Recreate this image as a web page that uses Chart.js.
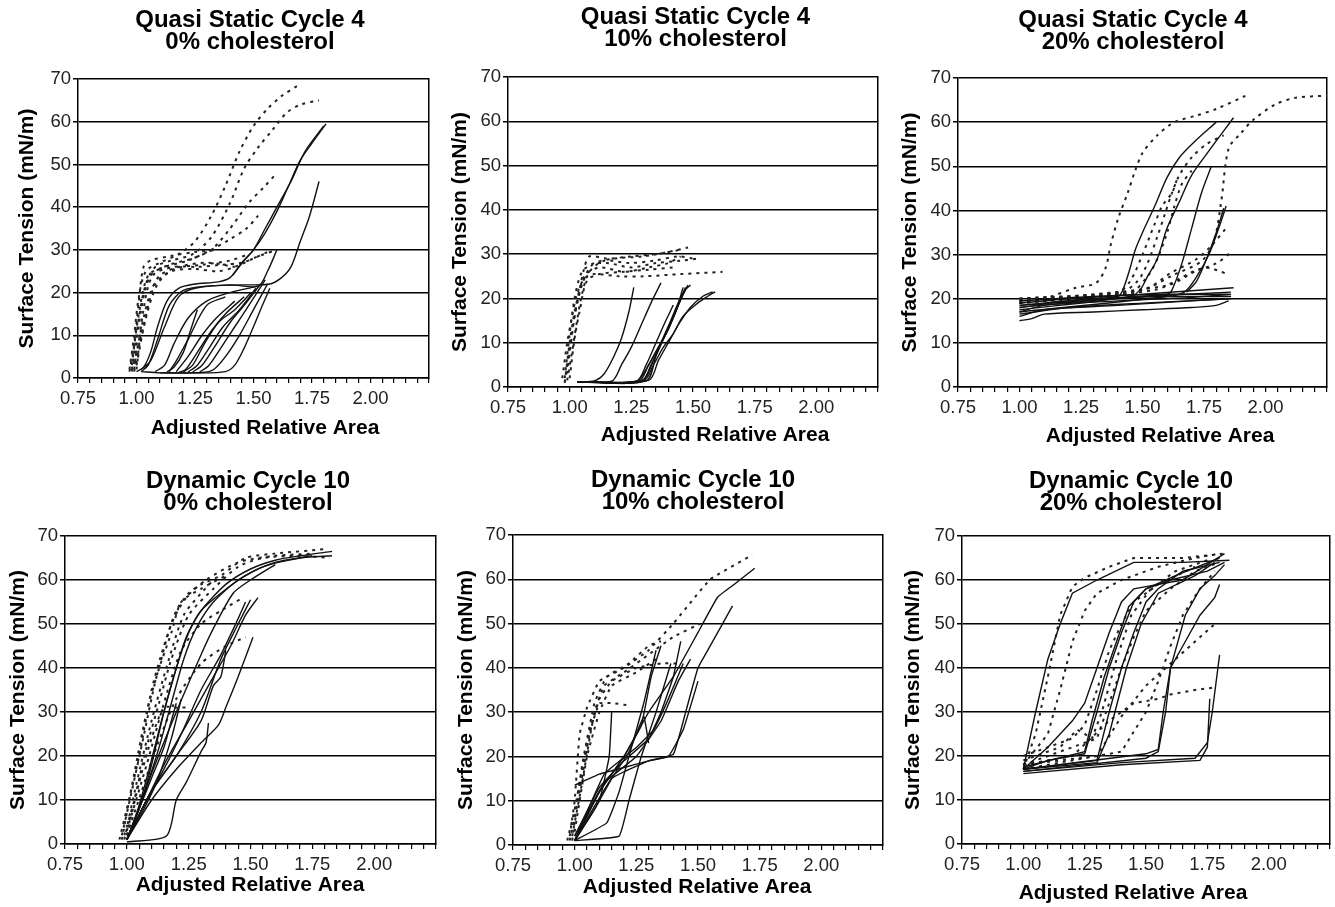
<!DOCTYPE html>
<html>
<head>
<meta charset="utf-8">
<title>Surface tension vs adjusted relative area</title>
<script src="https://cdn.jsdelivr.net/npm/chart.js@4.4.1/dist/chart.umd.min.js"></script>
<style>
  html, body { margin: 0; padding: 0; background: #fff; overflow: hidden; }
  body { width: 1335px; height: 907px; position: relative; }
  .panel { position: absolute; }
</style>
</head>
<body>
<div class="panel" id="p0"><canvas id="c0"></canvas></div>
<div class="panel" id="p1"><canvas id="c1"></canvas></div>
<div class="panel" id="p2"><canvas id="c2"></canvas></div>
<div class="panel" id="p3"><canvas id="c3"></canvas></div>
<div class="panel" id="p4"><canvas id="c4"></canvas></div>
<div class="panel" id="p5"><canvas id="c5"></canvas></div>
<script>
// labels
const cycleTitles = ['Quasi Static Cycle 4', 'Dynamic Cycle 10'];
const cholesterolLabels = ['0% cholesterol', '10% cholesterol', '20% cholesterol'];
const xAxisTitle = 'Adjusted Relative Area';
const yAxisTitle = 'Surface Tension (mN/m)';
const xTickLabels = ['0.75', '1.00', '1.25', '1.50', '1.75', '2.00'];
const yTicks = [0, 10, 20, 30, 40, 50, 60, 70];

// each curve is a list of [relative area, surface tension]
// solid = compression, dashed = expansion

const qs0Solid = [
  [[1.81,59.5],[1.75,55],[1.70,51],[1.65,45],[1.60,39],[1.55,34],[1.50,30],[1.45,27],[1.40,23.5],[1.35,22.5],[1.25,22],[1.18,21],[1.13,18],[1.09,12],[1.06,6],[1.03,2.5],[1.00,1.5]],
  [[1.80,59],[1.72,53],[1.66,46],[1.60,40],[1.55,35],[1.50,30],[1.46,27.5],[1.41,24]],
  [[1.78,46],[1.74,38],[1.70,32],[1.66,26],[1.62,23.5],[1.57,22],[1.45,21.8],[1.30,21.5],[1.20,20.5],[1.14,17],[1.09,9],[1.05,3],[1.02,1.5]],
  [[1.60,30],[1.56,25],[1.52,21.5],[1.40,21.8],[1.25,21],[1.18,19],[1.12,12],[1.06,4],[1.02,2]],
  [[1.57,21],[1.53,16],[1.50,12],[1.46,7],[1.42,3],[1.38,1.5],[1.25,1.2],[1.10,1.2],[1.02,1.5]],
  [[1.56,22],[1.50,16],[1.44,10],[1.38,5],[1.33,2],[1.28,1.3],[1.10,1.2]],
  [[1.55,23],[1.48,17],[1.42,12],[1.36,7],[1.31,3],[1.27,1.4]],
  [[1.53,22],[1.46,17],[1.40,13],[1.33,7],[1.28,3],[1.24,1.4]],
  [[1.51,21],[1.44,16],[1.37,12],[1.31,7],[1.26,3],[1.22,1.4]],
  [[1.49,20],[1.42,16],[1.35,13],[1.29,8],[1.24,3],[1.20,1.4]],
  [[1.46,19],[1.38,15],[1.32,11],[1.26,6],[1.21,2],[1.18,1.3]],
  [[1.42,18],[1.34,14],[1.28,10],[1.22,5],[1.17,1.5]],
  [[1.26,16],[1.23,11],[1.20,6],[1.16,2.5],[1.13,1.4]],
  [[1.52,21.5],[1.40,20],[1.30,18],[1.22,14],[1.16,8],[1.12,3],[1.08,1.5]],
  [[1.38,19],[1.30,17],[1.22,9],[1.17,4],[1.14,1.5]]
];
const qs0Dashed = [
  [[0.97,2],[0.99,10],[1.01,19],[1.04,25],[1.10,27],[1.18,29],[1.25,32],[1.32,38],[1.38,45],[1.44,53],[1.50,59],[1.56,63],[1.62,66],[1.69,68.5]],
  [[0.98,2],[1.01,14],[1.04,22],[1.08,26],[1.15,27.5],[1.24,29],[1.32,33],[1.40,41],[1.46,49],[1.52,54],[1.58,58],[1.64,62],[1.70,64],[1.78,65]],
  [[0.99,2],[1.02,16],[1.06,24],[1.14,26.5],[1.24,28],[1.32,30],[1.40,35],[1.48,41],[1.55,45],[1.60,48]],
  [[0.98,3],[1.01,15],[1.05,24],[1.12,26],[1.22,27.5],[1.32,30],[1.40,32.5],[1.47,35],[1.52,38]],
  [[1.00,2],[1.03,16],[1.07,24],[1.16,26],[1.26,26],[1.36,26.5],[1.45,27],[1.52,28.5],[1.60,30]],
  [[0.99,1.5],[1.03,12],[1.08,22],[1.15,25],[1.25,25.5],[1.35,25],[1.42,26],[1.50,28],[1.56,29.5]],
  [[1.00,3],[1.04,14],[1.09,22],[1.16,25.5],[1.28,26.5],[1.40,27.5],[1.48,29]],
  [[0.97,1.5],[0.99,8],[1.01,18],[1.03,26],[1.06,27.5],[1.14,28.5],[1.25,29.5],[1.35,30]],
  [[0.98,1.5],[1.00,6],[1.03,14],[1.06,20],[1.10,24],[1.18,26],[1.30,27],[1.42,26]]
];

const qs10Solid = [
  [[1.03,1.2],[1.10,1.4],[1.14,3],[1.18,7],[1.21,11],[1.24,17],[1.26,22.5]],
  [[1.03,1.2],[1.17,1.3],[1.21,5],[1.25,9],[1.29,14],[1.33,19],[1.37,23.5]],
  [[1.05,1.2],[1.27,1.3],[1.31,4],[1.35,8],[1.39,12],[1.43,17],[1.47,22],[1.49,23]],
  [[1.05,1.2],[1.28,1.3],[1.32,5],[1.36,9],[1.40,13],[1.44,18.5]],
  [[1.03,1.2],[1.29,1.3],[1.33,5],[1.37,10],[1.41,15],[1.44,19],[1.47,22.5]],
  [[1.03,1.2],[1.30,1.4],[1.34,5],[1.38,9],[1.42,12],[1.46,16],[1.52,19],[1.56,20.5],[1.59,21.5]],
  [[1.05,1.2],[1.32,1.5],[1.36,6],[1.40,10],[1.44,14],[1.49,18],[1.54,20.5],[1.58,21.5]],
  [[1.04,1.2],[1.27,1.3],[1.31,5],[1.35,10],[1.39,15],[1.42,18.5]],
  [[1.03,1.2],[1.29,1.3],[1.34,6],[1.38,11],[1.42,16],[1.46,21],[1.48,23]],
  [[1.04,1.2],[1.31,1.4],[1.35,7],[1.39,12],[1.43,17],[1.46,22.5]]
];
const qs10Dashed = [
  [[0.98,1],[1.00,10],[1.02,17],[1.04,22],[1.06,27],[1.08,29.5],[1.15,29],[1.25,29.5],[1.35,30],[1.45,31]],
  [[0.97,2],[0.99,10],[1.01,16],[1.03,21],[1.06,24.5],[1.10,25.5],[1.20,25],[1.30,25],[1.45,25.5],[1.62,26]],
  [[0.98,1],[1.00,9],[1.02,16],[1.05,23],[1.09,27.5],[1.15,28],[1.25,27],[1.35,28],[1.45,28.5],[1.52,29]],
  [[0.99,3],[1.01,12],[1.03,19],[1.06,25],[1.12,27],[1.22,26],[1.32,27],[1.40,28],[1.45,29.5]],
  [[1.00,2],[1.02,11],[1.04,17],[1.07,24],[1.12,25.5],[1.22,26],[1.32,26.5],[1.42,27]],
  [[0.98,2],[1.00,12],[1.02,20],[1.05,26],[1.10,28],[1.18,29],[1.30,29.5],[1.40,30.5],[1.48,31.5]],
  [[0.99,1.5],[1.01,8],[1.03,15],[1.05,21],[1.08,26],[1.14,28.5],[1.24,28],[1.34,28.5],[1.44,29.5],[1.50,29]]
];

const qs20Solid = [
  [[1.00,15],[1.05,15.5],[1.10,16.5],[1.30,17],[1.50,17.5],[1.70,18],[1.80,18.5],[1.85,19.5]],
  [[1.00,16],[1.10,17.5],[1.40,18.5],[1.70,19.5],[1.85,20]],
  [[1.00,17],[1.10,18.5],[1.40,19.5],[1.70,20.3],[1.86,21]],
  [[1.00,18],[1.20,19.5],[1.50,20.5],[1.86,21.5]],
  [[1.00,19],[1.20,20],[1.50,21],[1.87,22.5]],
  [[1.00,19.5],[1.30,20.5],[1.60,21],[1.85,21]],
  [[1.00,18.5],[1.30,20],[1.60,20.5],[1.86,20.5]],
  [[1.00,16.5],[1.20,18],[1.50,19],[1.86,20]],
  [[1.00,18],[1.40,20.5],[1.42,22],[1.45,27],[1.47,31],[1.50,35],[1.55,41],[1.60,47.5],[1.65,52],[1.71,55.5],[1.80,60]],
  [[1.00,17.5],[1.45,20.5],[1.49,22],[1.52,25],[1.56,29],[1.60,36],[1.65,42],[1.70,48],[1.77,53.5],[1.87,61]],
  [[1.00,18.5],[1.60,21],[1.62,22],[1.66,28],[1.70,36],[1.74,44],[1.78,50]],
  [[1.00,17],[1.60,20.5],[1.67,21.5],[1.72,25],[1.77,30],[1.81,36],[1.84,41]],
  [[1.68,21.5],[1.72,24],[1.76,29],[1.80,35],[1.83,40.5]]
];
const qs20Dashed = [
  [[1.00,19],[1.10,20],[1.23,22.5],[1.31,23.5],[1.35,27],[1.37,32],[1.40,38],[1.44,44],[1.47,49],[1.50,53],[1.56,57],[1.63,60],[1.72,61.5],[1.80,63],[1.92,66]],
  [[1.00,19],[1.30,20.5],[1.50,22],[1.63,25.5],[1.74,28.5],[1.79,33],[1.82,42],[1.85,54],[1.90,57.5],[1.95,60.5],[2.04,64],[2.12,65.5],[2.25,66]],
  [[1.00,19.5],[1.40,21],[1.48,24],[1.52,28],[1.56,34],[1.59,39],[1.62,44],[1.65,48],[1.70,52],[1.76,55],[1.83,57]],
  [[1.00,20],[1.45,21.5],[1.52,25],[1.56,29],[1.60,35],[1.63,41],[1.66,46],[1.70,49]],
  [[1.00,20],[1.50,22],[1.62,26],[1.72,29],[1.78,32],[1.84,36]],
  [[1.00,19],[1.55,22],[1.70,26],[1.80,28],[1.86,30.5]],
  [[1.00,19.5],[1.60,23],[1.75,27],[1.85,25.5]],
  [[1.00,20],[1.40,21.5],[1.45,24],[1.50,30],[1.55,37],[1.58,41],[1.62,44],[1.64,47]]
];

const dyn0Solid = [
  [[1.00,1],[1.05,8],[1.10,18],[1.15,30],[1.20,40],[1.25,48],[1.30,53],[1.40,59],[1.50,62.5],[1.60,64.5],[1.70,65.5],[1.83,66.5]],
  [[1.00,1],[1.06,10],[1.12,20],[1.18,32],[1.23,42],[1.28,49],[1.35,55],[1.45,60],[1.55,63],[1.70,65],[1.83,65.5]],
  [[1.00,1],[1.05,8],[1.10,16],[1.20,30],[1.30,43],[1.35,49],[1.43,57],[1.50,60],[1.60,63.5]],
  [[1.00,1],[1.04,7],[1.09,17],[1.14,28],[1.19,38],[1.24,47],[1.30,53],[1.38,57],[1.48,61],[1.60,64],[1.75,65.5]],
  [[1.00,1],[1.08,10],[1.15,18],[1.25,28],[1.35,38],[1.42,45],[1.48,52],[1.53,56]],
  [[1.00,1],[1.10,12],[1.20,20],[1.30,30],[1.38,42],[1.45,50],[1.50,55.5]],
  [[1.00,0.5],[1.16,1.8],[1.20,10],[1.24,14],[1.30,21],[1.32,23],[1.33,27.5]],
  [[1.00,1],[1.10,10],[1.20,17],[1.30,23],[1.37,27],[1.40,31],[1.45,38],[1.51,47]],
  [[1.00,1],[1.10,12],[1.20,20],[1.30,28],[1.35,36],[1.38,38],[1.40,44]],
  [[1.00,1],[1.05,8],[1.10,15],[1.15,22],[1.18,28],[1.20,32]],
  [[1.00,1],[1.08,10],[1.15,17],[1.22,25],[1.30,35],[1.38,43],[1.44,50],[1.48,55]],
  [[1.00,1],[1.06,7],[1.12,14],[1.18,24],[1.22,33]]
];
const dyn0Dashed = [
  [[0.97,1],[1.00,8],[1.05,20],[1.10,35],[1.15,45],[1.20,53],[1.25,57],[1.30,59],[1.38,61],[1.48,65],[1.60,66],[1.80,67]],
  [[0.98,2],[1.02,12],[1.07,25],[1.12,38],[1.18,48],[1.22,55],[1.30,58],[1.40,61]],
  [[0.99,2],[1.03,10],[1.08,22],[1.13,32],[1.18,42],[1.25,52],[1.35,58],[1.45,63],[1.55,65],[1.70,65.5],[1.82,65]],
  [[1.00,2],[1.05,14],[1.10,24],[1.15,31],[1.20,31],[1.25,31]],
  [[1.00,2],[1.06,12],[1.12,22],[1.20,33],[1.30,41],[1.40,45],[1.48,47]],
  [[1.00,3],[1.08,18],[1.15,32],[1.22,44],[1.30,50],[1.38,53],[1.47,56]],
  [[0.99,1],[1.04,14],[1.10,28],[1.17,42],[1.23,52],[1.30,57],[1.35,60]],
  [[0.98,1],[1.03,16],[1.08,30],[1.13,40],[1.18,50],[1.24,56],[1.32,60],[1.45,64],[1.60,65.5],[1.75,66]]
];

const dyn10Solid = [
  [[1.00,1],[1.10,12],[1.20,20],[1.30,30],[1.40,38],[1.50,48],[1.58,56],[1.65,59],[1.73,62.5]],
  [[1.00,1],[1.15,15],[1.30,19],[1.40,20.5],[1.45,30],[1.50,40],[1.55,45],[1.60,50],[1.64,54]],
  [[1.00,13.5],[1.10,16],[1.20,17.5],[1.30,19],[1.38,20],[1.44,26],[1.50,37]],
  [[1.00,1],[1.13,5],[1.18,12],[1.23,22],[1.28,32],[1.33,44]],
  [[1.00,1],[1.18,2],[1.22,10],[1.27,20],[1.33,30],[1.39,41]],
  [[1.00,1],[1.10,10],[1.14,20],[1.15,30]],
  [[1.00,1],[1.10,12],[1.20,20],[1.27,27],[1.31,38],[1.35,45]],
  [[1.00,2],[1.10,13],[1.20,19],[1.30,24],[1.35,30],[1.40,38],[1.43,46]],
  [[1.00,2],[1.12,14],[1.25,20],[1.35,28],[1.42,37],[1.47,42]],
  [[1.00,1],[1.08,8],[1.15,15],[1.22,21],[1.28,29],[1.30,23]],
  [[1.00,1],[1.12,16],[1.25,22],[1.32,26],[1.38,33],[1.44,41]]
];
const dyn10Dashed = [
  [[0.98,2],[1.00,10],[1.02,25],[1.05,31],[1.10,37],[1.20,40],[1.30,44],[1.40,50],[1.55,60],[1.72,65.5]],
  [[0.97,1],[1.00,8],[1.04,20],[1.08,30],[1.12,36],[1.20,39],[1.30,43],[1.40,47],[1.51,50]],
  [[0.98,1],[1.02,12],[1.06,25],[1.10,33],[1.15,37],[1.25,40],[1.35,41],[1.42,41]],
  [[0.99,2],[1.03,14],[1.07,27],[1.10,32],[1.16,32],[1.22,31.5]],
  [[0.99,1],[1.03,18],[1.08,32],[1.13,38],[1.22,41],[1.30,45],[1.35,46]],
  [[1.00,3],[1.05,20],[1.10,30],[1.15,36],[1.25,39],[1.33,42]]
];

const dyn20Solid = [
  [[1.00,17],[1.05,30],[1.10,42],[1.15,50],[1.20,57],[1.30,60],[1.45,64],[1.65,64],[1.84,64.5]],
  [[1.00,17],[1.10,22],[1.20,28],[1.25,32],[1.30,40],[1.35,48],[1.40,55],[1.45,58],[1.55,59],[1.65,60],[1.82,66]],
  [[1.00,17],[1.10,19],[1.25,20.5],[1.30,30],[1.35,40],[1.40,48],[1.45,55],[1.50,58],[1.60,60],[1.75,62],[1.82,64]],
  [[1.00,17],[1.30,19],[1.35,30],[1.40,40],[1.45,48],[1.50,55],[1.55,58],[1.65,62],[1.80,64]],
  [[1.00,17],[1.50,20.5],[1.55,21.5],[1.57,30],[1.60,40],[1.63,46],[1.66,52],[1.72,58],[1.78,61],[1.82,63.5]],
  [[1.00,16.5],[1.50,19.5],[1.55,21],[1.58,30],[1.60,40],[1.65,45],[1.72,52],[1.78,56],[1.80,59]],
  [[1.00,16.5],[1.40,18.5],[1.70,19.5],[1.75,23],[1.77,30],[1.80,43]],
  [[1.00,16],[1.40,18],[1.72,19],[1.75,22],[1.76,33]],
  [[1.00,17],[1.30,18.5],[1.35,25],[1.42,40],[1.48,50],[1.55,57],[1.70,61],[1.78,64]],
  [[1.00,17.5],[1.25,21],[1.28,28],[1.33,38],[1.38,46],[1.43,54],[1.50,58],[1.62,61],[1.80,65]]
];
const dyn20Dashed = [
  [[1.00,17],[1.05,25],[1.10,38],[1.15,52],[1.20,58.5],[1.25,60.5],[1.35,63],[1.45,65],[1.65,65],[1.82,66]],
  [[1.00,18],[1.10,25],[1.15,35],[1.20,46],[1.25,53],[1.30,57],[1.40,60],[1.55,63],[1.70,65],[1.80,66]],
  [[1.00,20],[1.10,22],[1.20,24],[1.25,27],[1.30,35],[1.35,44],[1.40,50],[1.45,55],[1.55,59],[1.70,63]],
  [[1.00,18],[1.20,22],[1.30,24],[1.35,32],[1.40,40],[1.45,47],[1.50,53],[1.60,58],[1.70,62],[1.80,64]],
  [[1.00,18],[1.20,20],[1.35,28],[1.45,32],[1.55,33],[1.60,34],[1.70,35],[1.77,35.5]],
  [[1.00,18],[1.30,20],[1.40,29],[1.50,36],[1.60,41],[1.70,46],[1.78,50]],
  [[1.00,17],[1.40,21],[1.50,30],[1.55,37],[1.60,45],[1.65,52],[1.72,58],[1.78,62]],
  [[1.00,19],[1.15,22],[1.22,26],[1.28,24],[1.32,30],[1.38,42],[1.44,52],[1.52,58],[1.62,62],[1.75,64.5]]
];

const panelSolid = [qs0Solid, qs10Solid, qs20Solid, dyn0Solid, dyn10Solid, dyn20Solid];
const panelDashed = [qs0Dashed, qs10Dashed, qs20Dashed, dyn0Dashed, dyn10Dashed, dyn20Dashed];

// placement of each canvas + fixed axis sizes so the plot boxes line up with the original
// xtX / xtY = page position of the x axis title centre
const layouts = [
  { bx: 0,   by: 0,   bw: 500, bh: 450, tTop: 9,  tBottom: 26, yW: 78, ytPad: 14.8, rW: 71, xH: 72, xtX: 265,  xtY: 428, tension: 0.3 },
  { bx: 440, by: 0,   bw: 511, bh: 455, tTop: 6,  tBottom: 27, yW: 68, ytPad: 7.4,  rW: 73, xH: 68, xtX: 715,  xtY: 435, tension: 0.3 },
  { bx: 890, by: 0,   bw: 486, bh: 455, tTop: 9,  tBottom: 25, yW: 68, ytPad: 7.4,  rW: 49, xH: 68, xtX: 1160, xtY: 436, tension: 0.3 },
  { bx: 0,   by: 455, bw: 496, bh: 452, tTop: 15, tBottom: 22, yW: 65, ytPad: 5.4,  rW: 60, xH: 63, xtX: 250,  xtY: 885, tension: 0.25 },
  { bx: 445, by: 455, bw: 496, bh: 452, tTop: 14, tBottom: 22, yW: 68, ytPad: 9.1,  rW: 58, xH: 62, xtX: 697,  xtY: 887, tension: 0.1 },
  { bx: 890, by: 455, bw: 482, bh: 452, tTop: 15, tBottom: 22, yW: 72, ytPad: 10.7, rW: 42, xH: 63, xtX: 1133, xtY: 893, tension: 0 }
];

const FONT = '"Liberation Sans", Arial, Helvetica, sans-serif';

function toPoints(curve) {
  return curve.map(p => ({ x: p[0], y: p[1] }));
}

// x axis title is offset from the plot centre in the original, so draw it ourselves
const xTitlePlugin = {
  id: 'xTitle',
  afterDraw(chart, args, opts) {
    const ctx = chart.ctx;
    ctx.save();
    ctx.font = 'bold 21px ' + FONT;
    ctx.fillStyle = '#000';
    ctx.textAlign = 'center';
    ctx.textBaseline = 'middle';
    ctx.fillText(xAxisTitle, opts.x, opts.y);
    ctx.restore();
  }
};

function buildPanel(i) {
  const L = layouts[i];
  const wrap = document.getElementById('p' + i);
  wrap.style.left = L.bx + 'px';
  wrap.style.top = L.by + 'px';
  wrap.style.width = L.bw + 'px';
  wrap.style.height = L.bh + 'px';

  const datasets = [];
  panelSolid[i].forEach(c => datasets.push({
    data: toPoints(c), showLine: true, borderColor: '#111', borderWidth: 1.4,
    pointRadius: 0, tension: L.tension, fill: false
  }));
  panelDashed[i].forEach(c => datasets.push({
    data: toPoints(c), showLine: true, borderColor: '#222', borderWidth: 2,
    borderDash: [3, 5], pointRadius: 0, tension: L.tension, fill: false
  }));

  new Chart(document.getElementById('c' + i), {
    type: 'scatter',
    data: { datasets },
    plugins: [xTitlePlugin],
    options: {
      responsive: true,
      maintainAspectRatio: false,
      animation: false,
      events: [],
      layout: { padding: 0 },
      plugins: {
        legend: { display: false },
        tooltip: { enabled: false },
        xTitle: { x: L.xtX - L.bx, y: L.xtY - L.by },
        title: {
          display: true,
          text: [cycleTitles[Math.floor(i / 3)], cholesterolLabels[i % 3]],
          color: '#000',
          font: { family: FONT, size: 24, weight: 'bold', lineHeight: 22 / 24 },
          padding: { top: L.tTop, bottom: L.tBottom }
        }
      },
      scales: {
        x: {
          type: 'linear',
          position: 'bottom',
          min: 0.75,
          max: 2.25,
          ticks: {
            stepSize: 0.05,
            autoSkip: false,
            maxRotation: 0,
            padding: 5,
            color: '#222',
            font: { family: FONT, size: 18.5 },
            callback: v => {
              const s = Number(v).toFixed(2);
              return xTickLabels.includes(s) ? s : '';
            }
          },
          grid: { drawOnChartArea: false, drawTicks: true, tickLength: 5, color: '#000', lineWidth: 1.2 },
          border: { display: true, color: '#000', width: 1.5 },
          title: { display: false },
          afterFit: s => { s.height = L.xH; }
        },
        y: {
          position: 'left',
          min: yTicks[0],
          max: yTicks[yTicks.length - 1],
          ticks: { stepSize: 10, padding: 2, color: '#222', font: { family: FONT, size: 18.5 } },
          grid: { color: '#000', lineWidth: 1.5, tickLength: 5 },
          border: { display: true, color: '#000', width: 1.5 },
          title: {
            display: true, text: yAxisTitle, color: '#000',
            font: { family: FONT, size: 21, weight: 'bold' },
            padding: { top: L.ytPad, bottom: 0 }
          },
          afterFit: s => { s.width = L.yW; }
        },
        y2: {
          position: 'right',
          min: 0,
          max: 70,
          ticks: { display: false },
          grid: { drawOnChartArea: false, drawTicks: false },
          border: { display: true, color: '#000', width: 1.5 },
          afterFit: s => { s.width = L.rW; }
        }
      }
    }
  });
}

for (let i = 0; i < 6; i++) buildPanel(i);
</script>
</body>
</html>
